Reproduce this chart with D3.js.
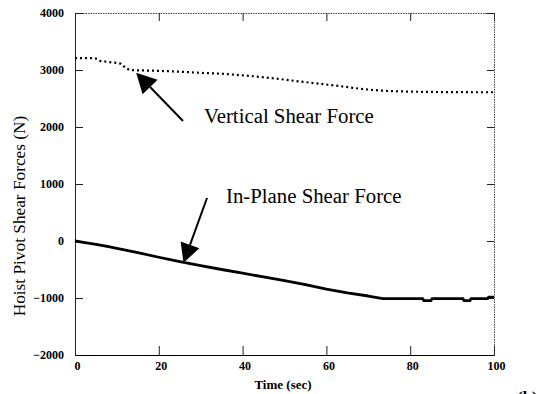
<!DOCTYPE html>
<html><head><meta charset="utf-8">
<script src="https://cdn.jsdelivr.net/npm/d3@7"></script>
<style>
html,body{margin:0;padding:0;background:#fff;overflow:hidden;}
svg{display:block;}
</style></head>
<body>
<svg id="chart" width="553" height="394"></svg>
<script>
// ---- data ----
const xTicks = [0, 20, 40, 60, 80, 100];
const yTicks = [-2000, -1000, 0, 1000, 2000, 3000, 4000];
const xTitle = "Time (sec)";
const yTitle = "Hoist Pivot Shear Forces (N)";

const verticalTime  = [0, 2, 4, 5, 6, 8, 10, 11, 12, 13, 15, 20, 25, 30, 35, 42, 48, 54, 60, 63, 67, 71, 75, 80, 85, 90, 95, 100];
const verticalForce = [3210, 3210, 3210, 3200, 3160, 3140, 3125, 3110, 3040, 3000, 2995, 2985, 2970, 2950, 2935, 2895, 2850, 2795, 2745, 2720, 2680, 2650, 2630, 2620, 2615, 2612, 2610, 2610];

const inplaneTime  = [0, 2, 5, 8, 10, 15, 20, 25, 30, 35, 40, 45, 50, 55, 60, 65, 70, 73.5, 83, 83.2, 85, 85.2, 92.6, 92.8, 94.3, 94.5, 98.5, 98.7, 100];
const inplaneForce = [0, -25, -60, -100, -130, -205, -285, -360, -430, -500, -565, -630, -695, -765, -845, -910, -965, -1010, -1010, -1045, -1045, -1010, -1010, -1045, -1045, -1010, -1010, -985, -985];

const annotations = [
  {label: "Vertical Shear Force", tx: 204, ty: 123, from: [183, 121], tip: [14.6, 2953], headLen: 20, headW: 10.5},
  {label: "In-Plane Shear Force", tx: 226, ty: 203, from: [207, 198], tip: [25.9, -381], headLen: 19, headW: 10}
];

// ---- layout ----
const svg = d3.select("#chart");
const L = 75, R = 494, T = 13, B = 355;
const x = d3.scaleLinear().domain([0, 100]).range([L, R]);
const y = d3.scaleLinear().domain([-2000, 4000]).range([B, T]);
const serif = "'Liberation Serif','Times New Roman',serif";

// top & right (dotted frame)
const gTop = svg.append("g").attr("transform", `translate(0,${T})`)
  .call(d3.axisTop(x).tickValues(xTicks).tickSize(-8).tickSizeOuter(0).tickFormat(""));
const gRight = svg.append("g").attr("transform", `translate(${R},0)`)
  .call(d3.axisRight(y).tickValues(yTicks).tickSize(-7).tickSizeOuter(0).tickFormat(""));
[gTop, gRight].forEach(g => {
  g.select(".domain").attr("stroke", "#444").attr("stroke-width", 1).attr("stroke-dasharray", "1.5,1");
  g.selectAll(".tick line").attr("stroke", "#222");
});

// left axis
const gLeft = svg.append("g").attr("transform", `translate(${L},0)`)
  .call(d3.axisLeft(y).tickValues(yTicks).tickSize(-8).tickSizeOuter(0).tickPadding(11).tickFormat(d3.format("d")));
gLeft.select(".domain").attr("stroke", "#222");
gLeft.selectAll(".tick line").attr("stroke", "#222");
gLeft.selectAll(".tick text").attr("font-family", serif).attr("font-weight", "bold").attr("font-size", 12).attr("fill", "#000");

// bottom axis
const gBottom = svg.append("g").attr("transform", `translate(0,${B})`)
  .call(d3.axisBottom(x).tickValues(xTicks).tickSize(-9).tickSizeOuter(0).tickPadding(6));
gBottom.select(".domain").attr("stroke", "#000");
gBottom.selectAll(".tick line").attr("stroke", "#222");
gBottom.selectAll(".tick text").attr("font-family", serif).attr("font-weight", "bold").attr("font-size", 12).attr("fill", "#000").attr("dx", 2);

// titles
svg.append("text").attr("x", 283).attr("y", 389).attr("text-anchor", "middle")
  .attr("font-family", serif).attr("font-weight", "bold").attr("font-size", 13).text(xTitle);
svg.append("text").attr("transform", "translate(25,216) rotate(-90)").attr("text-anchor", "middle")
  .attr("font-family", serif).attr("font-size", 17.3).text(yTitle);
svg.append("text").attr("x", 517).attr("y", 403)
  .attr("font-family", serif).attr("font-weight", "bold").attr("font-size", 17).text("(b)");

// series
const line = d3.line().x(d => x(d[0])).y(d => y(d[1]));
svg.append("path").datum(verticalTime.map((t, i) => [t, verticalForce[i]]))
  .attr("d", line).attr("fill", "none").attr("stroke", "#000")
  .attr("stroke-width", 2.2).attr("stroke-dasharray", "2,3");
svg.append("path").datum(inplaneTime.map((t, i) => [t, inplaneForce[i]]))
  .attr("d", line).attr("fill", "none").attr("stroke", "#000")
  .attr("stroke-width", 2.8).attr("stroke-linejoin", "round");

// annotations
annotations.forEach(a => {
  const tx = x(a.tip[0]), ty = y(a.tip[1]);
  const [fx, fy] = a.from;
  const ang = Math.atan2(ty - fy, tx - fx);
  const bx = tx - a.headLen * Math.cos(ang), by = ty - a.headLen * Math.sin(ang);
  svg.append("line").attr("x1", fx).attr("y1", fy).attr("x2", bx).attr("y2", by)
    .attr("stroke", "#000").attr("stroke-width", 2);
  const px = -Math.sin(ang) * a.headW, py = Math.cos(ang) * a.headW;
  svg.append("path").attr("d", `M${tx},${ty}L${bx + px},${by + py}L${bx - px},${by - py}Z`).attr("fill", "#000");
  svg.append("text").attr("x", a.tx).attr("y", a.ty)
    .attr("font-family", serif).attr("font-size", 20.8).text(a.label);
});
</script>
</body></html>
